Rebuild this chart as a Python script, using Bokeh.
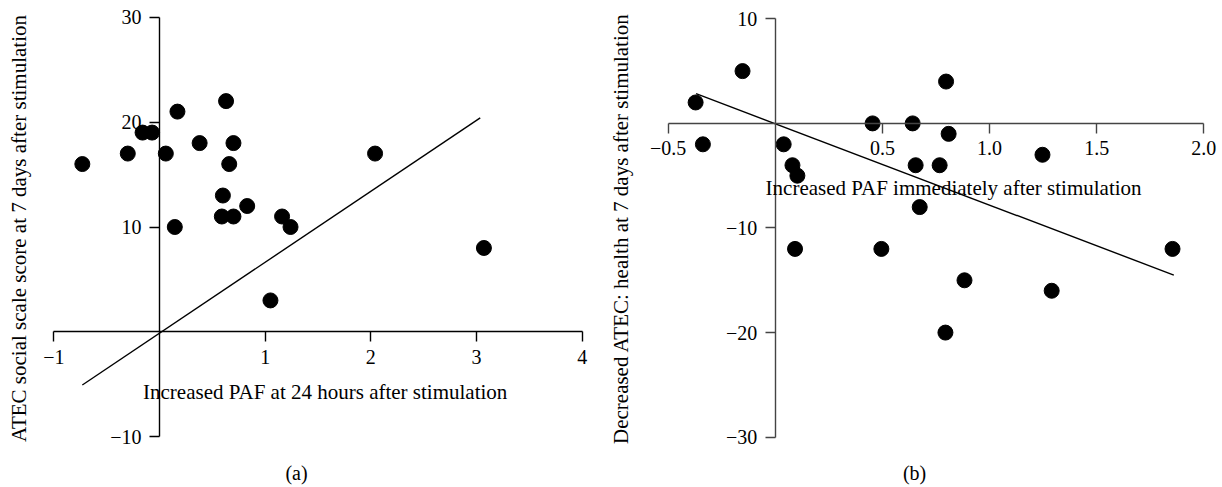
import math
from bokeh.plotting import figure
from bokeh.models import LinearAxis, FixedTicker, Range1d, Label
from bokeh.layouts import row
from bokeh.embed import file_html
from bokeh.resources import INLINE

FONT = "Liberation Serif"
TICK_FS = "20px"
TITLE_FS = "21px"
CAPTION_FS = "20px"

# ---------------- Panel (a) data ----------------
a_x = [-0.73, -0.30, -0.16, -0.07, 0.06, 0.17, 0.145, 0.38, 0.63, 0.70,
       0.66, 0.60, 0.59, 0.70, 0.83, 1.16, 1.24, 1.05, 2.04, 3.07]
a_y = [16, 17, 19, 19, 17, 21, 10, 18, 22, 18,
       16, 13, 11, 11, 12, 11, 10, 3, 17, 8]
a_fit_x = [-0.73, 3.035]
a_fit_y = [-5.06, 20.4]
a_xticks = [-1, 1, 2, 3, 4]
a_xtick_labels = ["−1", "1", "2", "3", "4"]
a_yticks = [-10, 10, 20, 30]
a_ytick_labels = ["−10", "10", "20", "30"]
a_xlabel = "Increased PAF at 24 hours after stimulation"
a_ylabel = "ATEC social scale score at 7 days after stimulation"
a_caption = "(a)"

# ---------------- Panel (b) data ----------------
b_x = [-0.372, -0.338, -0.153, 0.039, 0.080, 0.103, 0.454, 0.641, 0.797, 0.809,
       0.655, 0.767, 1.247, 0.674, 0.092, 0.495, 1.854, 0.883, 0.794, 1.290]
b_y = [2, -2, 5, -2, -4, -5, 0, 0, 4, -1,
       -4, -4, -3, -8, -12, -12, -12, -15, -20, -16]
b_fit_x = [-0.37, 1.86]
b_fit_y = [2.85, -14.5]
b_xticks = [-0.5, 0.5, 1.0, 1.5, 2.0]
b_xtick_labels = ["−0.5", "0.5", "1.0", "1.5", "2.0"]
b_yticks = [-30, -20, -10, 10]
b_ytick_labels = ["−30", "−20", "−10", "10"]
b_xlabel = "Increased PAF immediately after stimulation"
b_ylabel = "Decreased ATEC: health at 7 days after stimulation"
b_caption = "(b)"


def make_panel(xs, ys, fx, fy, xr, yr, xb, yb, xt, xtl, yt, ytl,
               xlabel, xlabel_pos, ylabel, ylabel_pos, caption, caption_pos,
               width, axis_color):
    p = figure(width=width, height=487, x_range=Range1d(*xr), y_range=Range1d(*yr),
               x_axis_location=None, y_axis_location=None,
               output_backend="svg", toolbar_location=None,
               min_border_left=0, min_border_right=0,
               min_border_top=0, min_border_bottom=0)
    p.grid.visible = False
    p.outline_line_color = None
    p.background_fill_color = "white"
    p.border_fill_color = "white"

    xa = LinearAxis(fixed_location=0, ticker=FixedTicker(ticks=xt), bounds=xb)
    xa.major_label_overrides = {t: l for t, l in zip(xt, xtl)}
    ya = LinearAxis(fixed_location=0, ticker=FixedTicker(ticks=yt), bounds=yb)
    ya.major_label_overrides = {t: l for t, l in zip(yt, ytl)}
    for ax in (xa, ya):
        ax.axis_line_color = axis_color
        ax.axis_line_width = 1.4
        ax.major_tick_line_color = axis_color
        ax.major_tick_line_width = 1.4
        ax.major_tick_in = 0
        ax.major_tick_out = 10
        ax.minor_tick_line_color = None
        ax.major_label_text_font = FONT
        ax.major_label_text_font_size = TICK_FS
        ax.major_label_text_color = "black"
        ax.major_label_standoff = 8
    p.add_layout(xa, "below")
    p.add_layout(ya, "left")

    p.line(fx, fy, line_color="black", line_width=1.4)
    p.scatter(xs, ys, size=15, fill_color="black", line_color="black")

    common = dict(text_font=FONT, text_color="black",
                  text_align="center", text_baseline="middle")
    p.add_layout(Label(x=xlabel_pos[0], y=xlabel_pos[1], text=xlabel,
                       text_font_size=TITLE_FS, **common))
    p.add_layout(Label(x=ylabel_pos[0], y=ylabel_pos[1], text=ylabel,
                       angle=math.pi / 2, text_font_size=TITLE_FS, **common))
    p.add_layout(Label(x=caption_pos[0], y=caption_pos[1], text=caption,
                       text_font_size=CAPTION_FS, **common))
    return p


pa = make_panel(a_x, a_y, a_fit_x, a_fit_y,
                xr=(-1.5044, 4.1732), yr=(-14.833, 31.592),
                xb=(-1, 4), yb=(-10, 30),
                xt=a_xticks, xtl=a_xtick_labels, yt=a_yticks, ytl=a_ytick_labels,
                xlabel=a_xlabel, xlabel_pos=(1.568, -5.75),
                ylabel=a_ylabel, ylabel_pos=(-1.333, 9.86),
                caption=a_caption, caption_pos=(1.297, -13.45),
                width=600, axis_color="black")
pb = make_panel(b_x, b_y, b_fit_x, b_fit_y,
                xr=(-0.816, 2.0873), yr=(-34.81, 11.75),
                xb=(-0.5, 2.0), yb=(-30, 10),
                xt=b_xticks, xtl=b_xtick_labels, yt=b_yticks, ytl=b_ytick_labels,
                xlabel=b_xlabel, xlabel_pos=(0.832, -6.13),
                ylabel=b_ylabel, ylabel_pos=(-0.7226, -10.05),
                caption=b_caption, caption_pos=(0.65, -33.42),
                width=622, axis_color="#444444")

layout = row(pa, pb)
open("out.html", "w").write(file_html(layout, INLINE))
